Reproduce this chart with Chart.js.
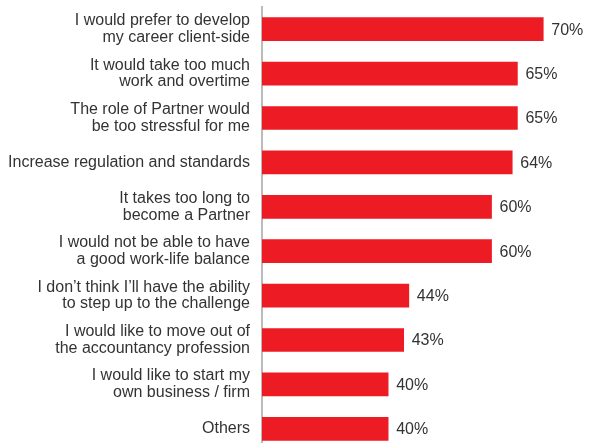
<!DOCTYPE html>
<html>
<head>
<meta charset="utf-8">
<script src="https://cdn.jsdelivr.net/npm/chart.js@4"></script>
<style>
  html, body { margin: 0; padding: 0; background: #fff; overflow: hidden; }
  /* canvas runs a few px past the window so the last bar sits like the original */
  #wrap { width: 591px; height: 452px; }
</style>
</head>
<body>
<div id="wrap"><canvas id="reasonsChart"></canvas></div>
<script>
// reasons for not wanting to become a Partner
const reasons = [
    ['I would prefer to develop', 'my career client-side'],
    ['It would take too much', 'work and overtime'],
    ['The role of Partner would', 'be too stressful for me'],
    'Increase regulation and standards',
    ['It takes too long to', 'become a Partner'],
    ['I would not be able to have', 'a good work-life balance'],
    ['I don\u2019t think I\u2019ll have the ability', 'to step up to the challenge'],
    ['I would like to move out of', 'the accountancy profession'],
    ['I would like to start my', 'own business / firm'],
    'Others'
];
const shares = [70, 65, 65, 64, 60, 60, 44, 43, 40, 40];

const textColor = '#333333';
const fontFamily = '"Liberation Sans", Arial, sans-serif';

// value labels at the end of each bar
const valueLabels = {
    id: 'valueLabels',
    afterDatasetsDraw(chart) {
        const ctx = chart.ctx;
        const meta = chart.getDatasetMeta(0);
        ctx.save();
        ctx.font = '16px ' + fontFamily;
        ctx.fillStyle = textColor;
        ctx.textAlign = 'left';
        ctx.textBaseline = 'middle';
        meta.data.forEach((bar, i) => {
            ctx.fillText(shares[i] + '%', bar.x + 8, bar.y + 1);
        });
        ctx.restore();
    }
};

new Chart(document.getElementById('reasonsChart'), {
    type: 'bar',
    data: {
        labels: reasons,
        datasets: [{
            data: shares,
            backgroundColor: '#ED1C24',
            borderWidth: 0,
            barThickness: 23
        }]
    },
    options: {
        indexAxis: 'y',
        responsive: true,
        maintainAspectRatio: false,
        animation: false,
        layout: { padding: { top: 7, bottom: 1, left: 0, right: 10 } },
        plugins: {
            legend: { display: false },
            tooltip: { enabled: false }
        },
        scales: {
            x: {
                display: false,
                min: 15.6,
                max: 77.3
            },
            y: {
                afterFit(scale) {
                    scale.width = 262;
                    scale.paddingTop = 0;
                    scale.paddingBottom = 0;
                },
                grid: { display: false, drawTicks: false },
                border: { display: true, color: '#bbbbbb', width: 2 },
                ticks: {
                    color: textColor,
                    padding: 12,
                    font: { family: fontFamily, size: 16, lineHeight: 1.05 }
                }
            }
        }
    },
    plugins: [valueLabels]
});
</script>
</body>
</html>
